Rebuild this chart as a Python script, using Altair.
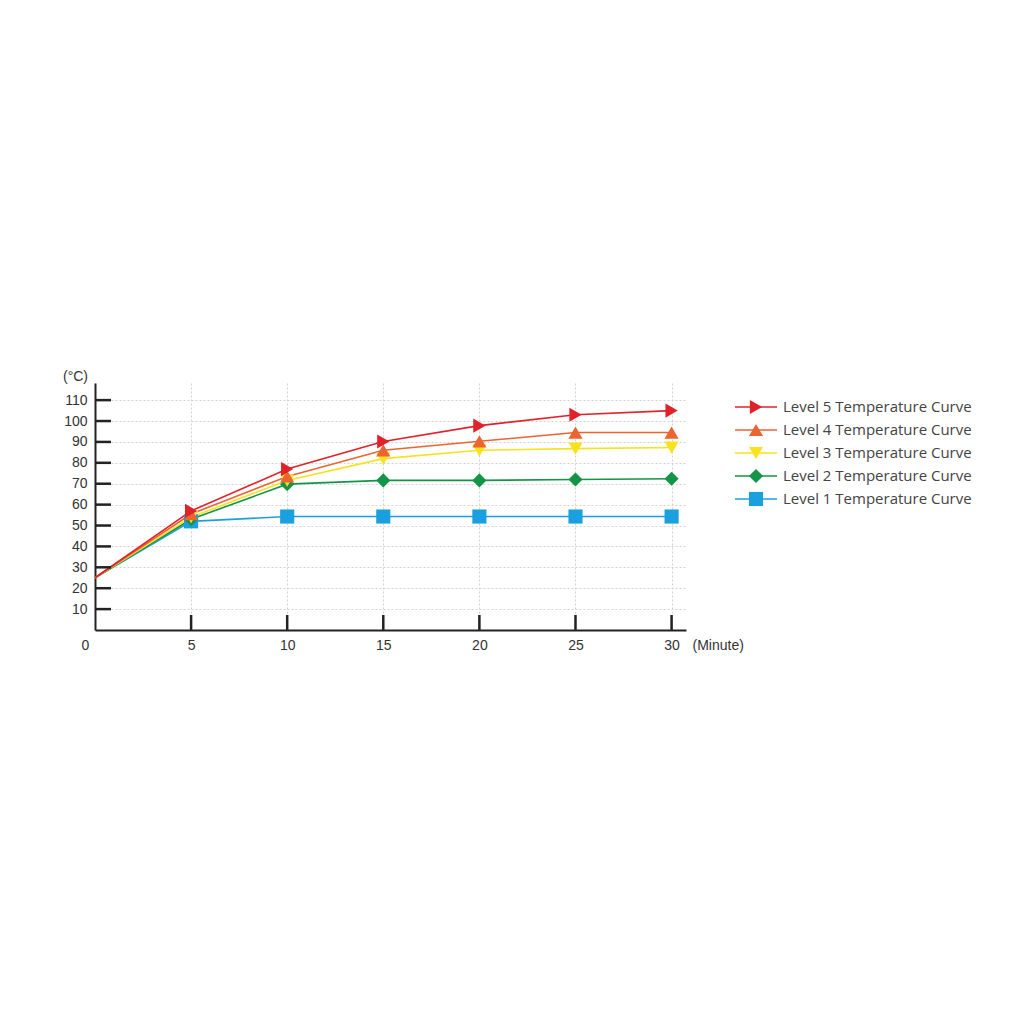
import altair as alt
import pandas as pd

minutes = [0, 5, 10, 15, 20, 25, 30]
series_names = [
    "Level 5 Temperature Curve",
    "Level 4 Temperature Curve",
    "Level 3 Temperature Curve",
    "Level 2 Temperature Curve",
    "Level 1 Temperature Curve",
]
level5 = [25, 57, 77, 90.2, 97.8, 103, 105]
level4 = [25, 55.5, 73.5, 86, 90.3, 94.5, 94.5]
level3 = [25, 54, 71.5, 82, 86, 86.8, 87.3]
level2 = [25, 53, 69.8, 71.6, 71.6, 72, 72.4]
level1 = [25, 52, 54.3, 54.3, 54.3, 54.3, 54.3]
series_values = [level5, level4, level3, level2, level1]
colors = ["#e0222b", "#ea6530", "#f7e21e", "#139447", "#1ba0df"]
shapes = ["triangle-right", "triangle-up", "triangle-down", "diamond", "square"]
x_labels = [0, 5, 10, 15, 20, 25, 30]
x_ticks = [5, 10, 15, 20, 25, 30]
y_ticks = [10, 20, 30, 40, 50, 60, 70, 80, 90, 100, 110]

W, H = 591, 247

rows = []
for name, vals in reversed(list(zip(series_names, series_values))):
    for m, v in zip(minutes, vals):
        rows.append({"series": name, "minute": m, "temp": v})
df = pd.DataFrame(rows)

xscale = alt.Scale(domain=[0, 30.75], nice=False, zero=False)
yscale = alt.Scale(domain=[0, 118.2], nice=False, zero=False)
cscale = alt.Scale(domain=series_names, range=colors)
sscale = alt.Scale(domain=series_names, range=shapes)

x_enc = alt.X(
    "minute:Q",
    scale=xscale,
    axis=alt.Axis(
        values=x_labels, tickCount=20, grid=True, gridDash=[2, 2], gridColor="#d2d2d2",
        tickSize=0, domainColor="#222222", domainWidth=2,
        labelPadding=8, labelFontSize=14, labelColor="#333333",
        labelFont="Liberation Sans", labelFlush=False, labelOverlap=False,
        labelOffset={"expr": "datum.value === 0 ? -10 : 0"},
        title="(Minute)", titleX=597, titleY=15, titleAlign="left",
        titleBaseline="middle", titleFontWeight="normal", titleFontSize=14,
        titleFont="Liberation Sans", titleColor="#333333",
    ),
)
y_enc = alt.Y(
    "temp:Q",
    scale=yscale,
    axis=alt.Axis(
        values=y_ticks, tickCount=20, grid=True, gridDash=[2, 2], gridColor="#d2d2d2",
        tickSize=0, domainColor="#222222", domainWidth=2,
        labelPadding=8, labelFontSize=14, labelColor="#333333",
        labelFont="Liberation Sans", labelOverlap=False, labelFlush=False,
        title="(°C)", titleAngle=0, titleX=-20, titleY=-7, titleAlign="center",
        titleBaseline="middle", titleFontWeight="normal", titleFontSize=14,
        titleFont="Liberation Sans", titleColor="#333333",
    ),
)

base = alt.Chart(df)
lines = base.mark_line(strokeWidth=1.6).encode(
    x=x_enc, y=y_enc,
    color=alt.Color("series:N", scale=cscale, legend=None),
    detail="series:N",
)
points = base.transform_filter("datum.minute > 0").mark_point(
    filled=True, size=200, opacity=1
).encode(
    x=alt.X("minute:Q", scale=xscale),
    y=alt.Y("temp:Q", scale=yscale),
    color=alt.Color("series:N", scale=cscale, legend=None),
    shape=alt.Shape("series:N", scale=sscale, legend=None),
)
yt = alt.Chart(pd.DataFrame({"temp": y_ticks})).mark_rule(
    color="#222222", strokeWidth=2.5
).encode(y=alt.Y("temp:Q", scale=yscale), x=alt.value(0), x2=alt.value(16))
xt = alt.Chart(pd.DataFrame({"minute": x_ticks})).mark_rule(
    color="#222222", strokeWidth=2.5
).encode(x=alt.X("minute:Q", scale=xscale), y=alt.value(H), y2=alt.value(H - 15))

main = alt.layer(lines, points, yt, xt)

leg_df = pd.DataFrame({"series": series_names})
ly = alt.Y("series:N", scale=alt.Scale(domain=series_names, range=[12.5, 127.5]), axis=None)
leg_rule = alt.Chart(leg_df).mark_rule(strokeWidth=1.6).encode(
    y=ly, x=alt.value(640), x2=alt.value(682),
    color=alt.Color("series:N", scale=cscale, legend=None),
)
leg_pt = alt.Chart(leg_df).mark_point(filled=True, size=200, opacity=1).encode(
    y=ly, x=alt.value(661),
    color=alt.Color("series:N", scale=cscale, legend=None),
    shape=alt.Shape("series:N", scale=sscale, legend=None),
)
leg_txt = alt.Chart(leg_df).mark_text(
    align="left", baseline="middle", fontSize=15, font="Open Sans", color="#444444"
).encode(y=ly, x=alt.value(688), text="series:N")
legend = alt.layer(leg_rule, leg_pt, leg_txt)

chart = alt.layer(main, legend).resolve_scale(y="independent").properties(
    width=W, height=H,
    autosize=alt.AutoSizeParams(type="none"),
    padding={"left": 87, "top": 375, "right": 320, "bottom": 370},
).configure_view(stroke=None)

chart.save("out.html", embed_options={"renderer": "svg", "actions": False})
